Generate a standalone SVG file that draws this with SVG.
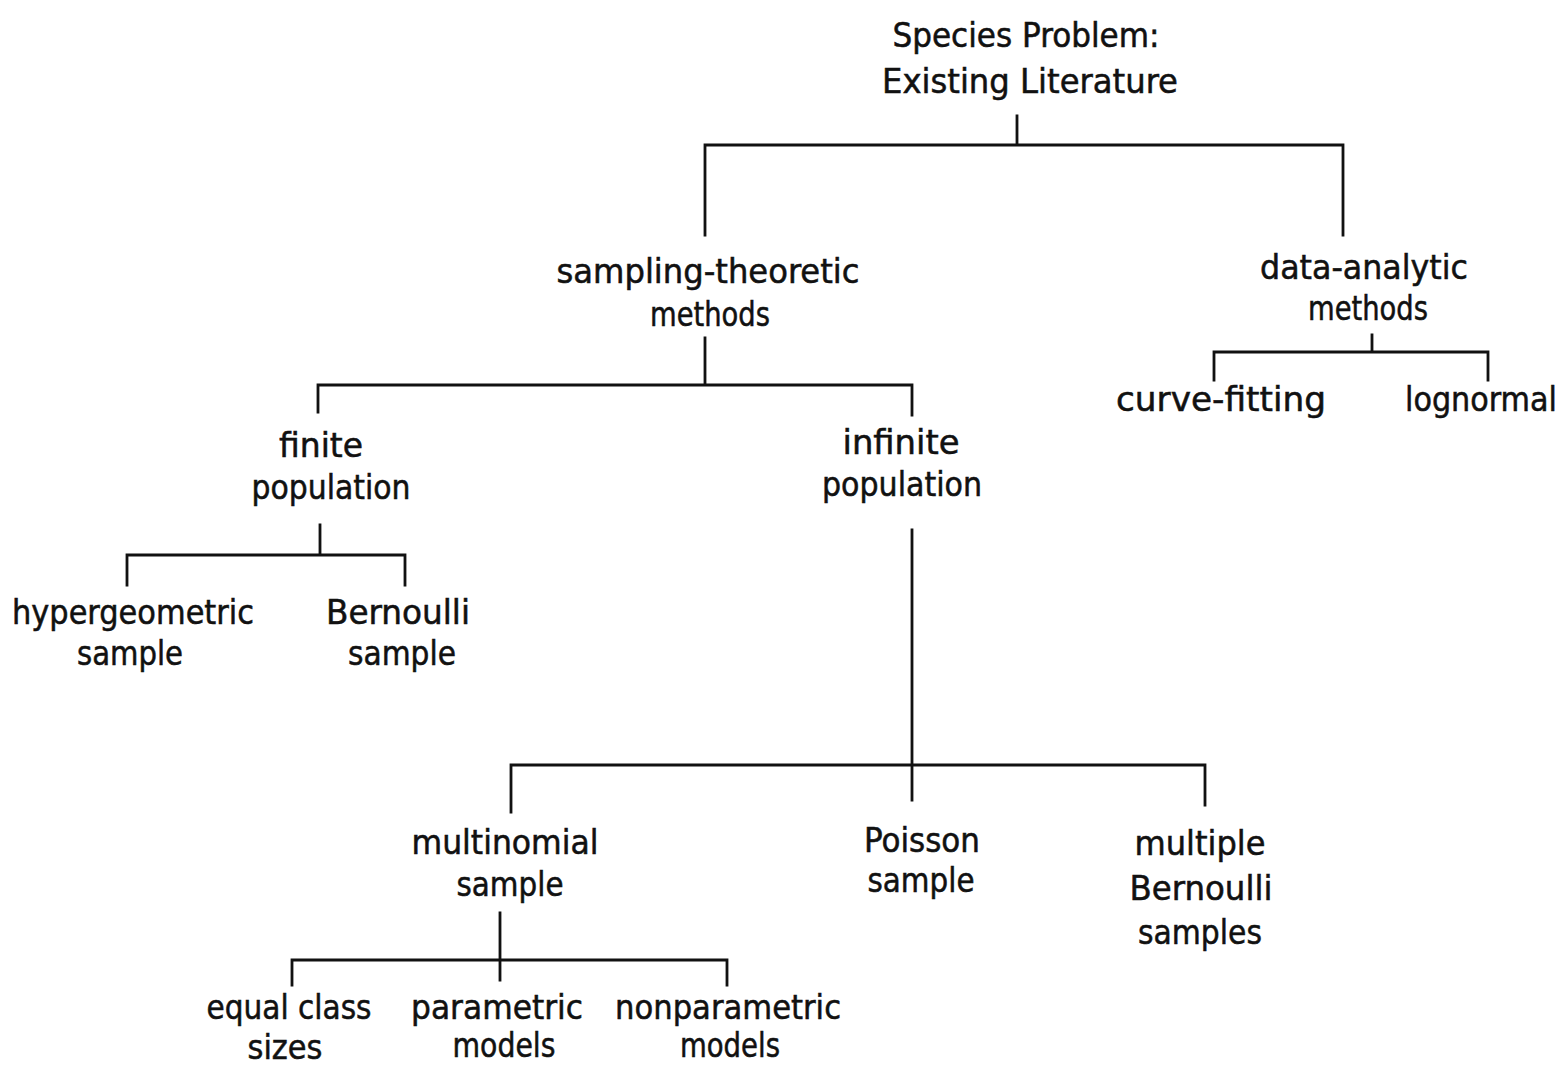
<svg xmlns="http://www.w3.org/2000/svg" width="1564" height="1068" viewBox="0 0 1564 1068">
<style>
text{font-family:"DejaVu Sans Condensed","Liberation Sans",sans-serif;font-size:34px;fill:#111;stroke:#111;stroke-width:0.5;text-anchor:middle}
.c{stroke:#111;stroke-width:2.8;fill:none;stroke-linecap:square}
</style>
<rect width="1564" height="1068" fill="#fff"/>
<g id="connectors" class="c">
<path d="M1017 116V145M705 145H1343M705 145V235M1343 145V235"/>
<path d="M705 338V385M318 385H912M318 385V412M912 385V415"/>
<path d="M1372 335V352M1214 352H1488M1214 352V380M1488 352V380"/>
<path d="M320 525V555M127 555H405M127 555V585M405 555V585"/>
<path d="M912 530V800M511 765H1205M511 765V812M1205 765V805"/>
<path d="M500 913V980M292 960H727M292 960V985M727 960V985"/>
</g>
<g id="root"><text x="1026" y="47" textLength="267" lengthAdjust="spacingAndGlyphs">Species Problem:</text><text x="1030" y="93" textLength="296" lengthAdjust="spacingAndGlyphs">Existing Literature</text></g>
<g id="sampling"><text x="708" y="283" textLength="303" lengthAdjust="spacingAndGlyphs">sampling-theoretic</text><text x="710" y="326" textLength="120" lengthAdjust="spacingAndGlyphs">methods</text></g>
<g id="data"><text x="1364" y="279" textLength="208" lengthAdjust="spacingAndGlyphs">data-analytic</text><text x="1368" y="320" textLength="120" lengthAdjust="spacingAndGlyphs">methods</text></g>
<g id="curve"><text x="1221" y="411" textLength="210" lengthAdjust="spacingAndGlyphs">curve-fitting</text></g>
<g id="lognormal"><text x="1481" y="411" textLength="152" lengthAdjust="spacingAndGlyphs">lognormal</text></g>
<g id="finite"><text x="321" y="457" textLength="84" lengthAdjust="spacingAndGlyphs">finite</text><text x="331" y="499" textLength="159" lengthAdjust="spacingAndGlyphs">population</text></g>
<g id="infinite"><text x="901" y="454" textLength="117" lengthAdjust="spacingAndGlyphs">infinite</text><text x="902" y="496" textLength="160" lengthAdjust="spacingAndGlyphs">population</text></g>
<g id="hyper"><text x="133" y="624" textLength="242" lengthAdjust="spacingAndGlyphs">hypergeometric</text><text x="130" y="665" textLength="106" lengthAdjust="spacingAndGlyphs">sample</text></g>
<g id="bern"><text x="398" y="624" textLength="144" lengthAdjust="spacingAndGlyphs">Bernoulli</text><text x="402" y="665" textLength="108" lengthAdjust="spacingAndGlyphs">sample</text></g>
<g id="multinomial"><text x="505" y="854" textLength="187" lengthAdjust="spacingAndGlyphs">multinomial</text><text x="510" y="896" textLength="107" lengthAdjust="spacingAndGlyphs">sample</text></g>
<g id="poisson"><text x="922" y="852" textLength="116" lengthAdjust="spacingAndGlyphs">Poisson</text><text x="921" y="892" textLength="107" lengthAdjust="spacingAndGlyphs">sample</text></g>
<g id="multiple"><text x="1200" y="855" textLength="131" lengthAdjust="spacingAndGlyphs">multiple</text><text x="1201" y="900" textLength="143" lengthAdjust="spacingAndGlyphs">Bernoulli</text><text x="1200" y="944" textLength="124" lengthAdjust="spacingAndGlyphs">samples</text></g>
<g id="equal"><text x="289" y="1019" textLength="165" lengthAdjust="spacingAndGlyphs">equal class</text><text x="285" y="1059" textLength="75" lengthAdjust="spacingAndGlyphs">sizes</text></g>
<g id="param"><text x="497" y="1019" textLength="172" lengthAdjust="spacingAndGlyphs">parametric</text><text x="504" y="1057" textLength="103" lengthAdjust="spacingAndGlyphs">models</text></g>
<g id="nonparam"><text x="728" y="1019" textLength="226" lengthAdjust="spacingAndGlyphs">nonparametric</text><text x="730" y="1057" textLength="100" lengthAdjust="spacingAndGlyphs">models</text></g>
</svg>
